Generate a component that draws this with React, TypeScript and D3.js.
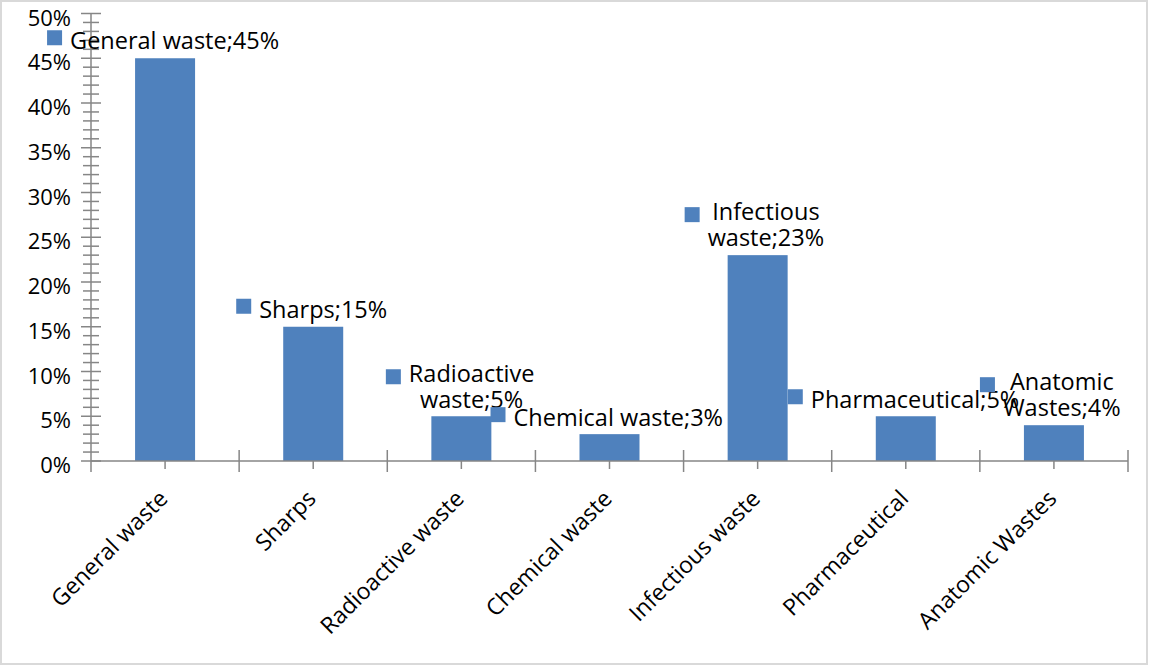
import React, { useEffect, useRef } from "react";
import * as d3 from "d3";

// Share of healthcare waste by category
const categories = [
  "General waste",
  "Sharps",
  "Radioactive waste",
  "Chemical waste",
  "Infectious waste",
  "Pharmaceutical",
  "Anatomic Wastes",
];
const shares = [0.45, 0.15, 0.05, 0.03, 0.23, 0.05, 0.04];
const yTicks = [0, 0.05, 0.1, 0.15, 0.2, 0.25, 0.3, 0.35, 0.4, 0.45, 0.5];

// Data-label layout: whether the label wraps after its first word,
// and the legend key offset from the top-centre of its bar.
const labelWrap = [false, false, true, false, true, false, true];
const labelOffsets: [number, number][] = [
  [-118, -28],
  [-77, -28],
  [-75.5, -47],
  [-119, -27],
  [-73, -48],
  [-118, -27],
  [-74, -48],
];

const W = 1149;
const H = 666;
const BAR = "#4f81bd";
const AXIS = "#868686";
const FONT = "'Open Sans', sans-serif";

export default function App() {
  const ref = useRef<SVGSVGElement>(null);

  useEffect(() => {
    const svg = d3.select(ref.current);
    svg.selectAll("*").remove();

    svg
      .append("rect")
      .attr("x", 1)
      .attr("y", 1)
      .attr("width", W - 3)
      .attr("height", H - 3)
      .attr("fill", "#fff")
      .attr("stroke", "#d9d9d9")
      .attr("stroke-width", 2);

    const x0 = 91;
    const x1 = 1128;
    const y = d3.scaleLinear().domain([0, 0.5]).range([461, 13.5]);
    const x = d3
      .scaleBand<string>()
      .domain(categories)
      .range([x0, x1])
      .paddingInner(0.595)
      .paddingOuter(0.2975);
    const step = x.step();
    const cx = (c: string) => (x(c) as number) + x.bandwidth() / 2;
    const fmt = d3.format(".0%");

    // bars
    svg
      .append("g")
      .selectAll("rect")
      .data(categories)
      .join("rect")
      .attr("x", (c) => x(c) as number)
      .attr("width", x.bandwidth())
      .attr("y", (_, i) => y(shares[i]))
      .attr("height", (_, i) => y(0) - y(shares[i]))
      .attr("fill", BAR);

    // y axis with major and minor ticks
    const ax = svg.append("g").attr("stroke", AXIS).attr("stroke-width", 1.5);
    ax.append("line").attr("x1", x0).attr("x2", x0).attr("y1", y(0.5)).attr("y2", y(0) + 11);
    const minor = d3.range(0, 51).map((v) => v / 100).filter((v) => Math.round(v * 100) % 5 !== 0);
    ax.selectAll("line.ymin")
      .data(minor)
      .join("line")
      .attr("class", "ymin")
      .attr("x1", x0 - 8)
      .attr("x2", x0 + 8)
      .attr("y1", (d) => y(d))
      .attr("y2", (d) => y(d));
    ax.selectAll("line.ymaj")
      .data(yTicks)
      .join("line")
      .attr("class", "ymaj")
      .attr("x1", x0 - 10)
      .attr("x2", x0 + 10)
      .attr("y1", (d) => y(d))
      .attr("y2", (d) => y(d));

    // x axis
    ax.append("line").attr("x1", x0).attr("x2", x1).attr("y1", y(0)).attr("y2", y(0));
    ax.selectAll("line.xmaj")
      .data(d3.range(1, categories.length + 1))
      .join("line")
      .attr("class", "xmaj")
      .attr("x1", (i) => x0 + i * step)
      .attr("x2", (i) => x0 + i * step)
      .attr("y1", y(0) - 11)
      .attr("y2", y(0) + 11);
    ax.selectAll("line.xmin")
      .data(categories)
      .join("line")
      .attr("class", "xmin")
      .attr("x1", (c) => cx(c))
      .attr("x2", (c) => cx(c))
      .attr("y1", y(0))
      .attr("y2", y(0) + 8);

    // y tick labels
    svg
      .append("g")
      .selectAll("text")
      .data(yTicks)
      .join("text")
      .attr("x", 71)
      .attr("y", (d) => y(d) + 12)
      .attr("text-anchor", "end")
      .attr("font-family", FONT)
      .attr("font-size", 22)
      .attr("fill", "#000")
      .text((d) => fmt(d));

    // category labels, rotated
    svg
      .append("g")
      .selectAll("text")
      .data(categories)
      .join("text")
      .attr("transform", (c) => `translate(${cx(c) + 4},500) rotate(-45)`)
      .attr("text-anchor", "end")
      .attr("font-family", FONT)
      .attr("font-size", 23)
      .attr("fill", "#000")
      .text((c) => c);

    // data labels with legend keys
    const lg = svg.append("g");
    categories.forEach((c, i) => {
      const [dx, dy] = labelOffsets[i];
      const kx = cx(c) + dx;
      const ky = y(shares[i]) + dy;
      const full = `${c};${fmt(shares[i])}`;
      const sp = full.indexOf(" ");
      const lines = labelWrap[i] ? [full.slice(0, sp), full.slice(sp + 1)] : [full];
      const t = lg
        .append("text")
        .attr("font-family", FONT)
        .attr("font-size", 23.5)
        .attr("fill", "#000");
      if (lines.length === 1) {
        t.attr("x", kx + 23).attr("y", ky + 19).text(lines[0]);
      } else {
        const spans = lines.map((l, j) =>
          t.append("tspan").attr("y", ky + 13 + j * 26).text(l)
        );
        const maxW = d3.max(spans, (s) => (s.node() as SVGTSpanElement).getComputedTextLength()) || 0;
        t.attr("text-anchor", "middle");
        spans.forEach((s) => s.attr("x", kx + 23 + maxW / 2));
      }
      lg.append("rect")
        .attr("x", kx)
        .attr("y", ky)
        .attr("width", 15)
        .attr("height", 15)
        .attr("fill", BAR);
    });
  }, []);

  return (
    <svg
      ref={ref}
      width={W}
      height={H}
      style={{ position: "absolute", left: 0, top: 0, display: "block" }}
    />
  );
}
